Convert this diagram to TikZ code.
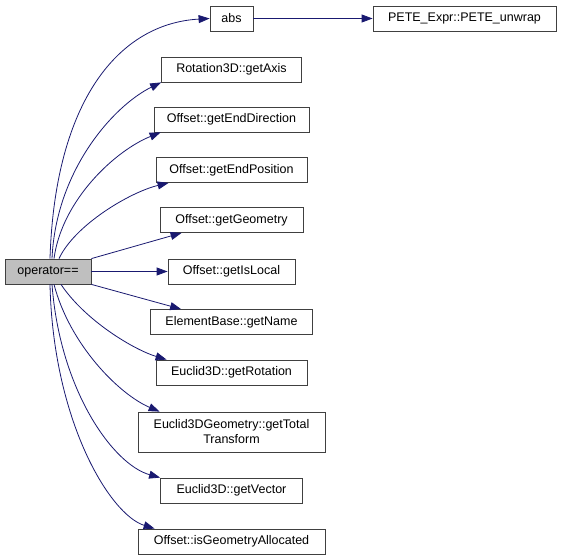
\documentclass[tikz,border=0pt]{standalone}
\usepackage{fontspec}
\setmainfont{Liberation Sans}
\usetikzlibrary{arrows.meta}
\definecolor{callblue}{HTML}{191970}
\definecolor{rootgray}{HTML}{BFBFBF}
\begin{document}
\begin{tikzpicture}[x=1pt,y=-1pt,
  fn/.style={draw=black!75,line width=0.8pt,minimum height=25pt,inner sep=1pt,
    align=center,font=\fontsize{12.5}{15}\selectfont},
  call/.style={draw=callblue,line width=0.8pt,
    -{Triangle[length=11pt,width=8pt,fill=callblue]}}]
\useasboundingbox (0,0) rectangle (563,560);
% Draw function boxes
\node[fn,fill=rootgray,minimum width=86pt] (op) at (48,271.5) {operator==};
\node[fn,minimum width=43pt] (abs) at (231.5,18.5) {abs};
\node[fn,minimum width=183pt] (unwrap) at (464.5,18.5) {PETE\_Expr::PETE\_unwrap};
\node[fn,minimum width=140pt] (axis) at (231.5,69.5) {Rotation3D::getAxis};
\node[fn,minimum width=155pt] (enddir) at (231.5,119.5) {Offset::getEndDirection};
\node[fn,minimum width=151pt] (endpos) at (231.5,170) {Offset::getEndPosition};
\node[fn,minimum width=143pt] (geom) at (231.5,220) {Offset::getGeometry};
\node[fn,minimum width=127pt] (islocal) at (231.5,271.5) {Offset::getIsLocal};
\node[fn,minimum width=162pt] (name) at (231.5,322) {ElementBase::getName};
\node[fn,minimum width=151pt] (rot) at (231.5,372.5) {Euclid3D::getRotation};
\node[fn,minimum width=187pt,minimum height=40pt] (total) at (231.5,432) {Euclid3DGeometry::getTotal\\Transform};
\node[fn,minimum width=142pt] (vec) at (231.5,490.5) {Euclid3D::getVector};
\node[fn,minimum width=187pt] (alloc) at (231.5,541.5) {Offset::isGeometryAllocated};
% Draw calls going up
\draw[call] ([xshift=2pt]op.north) .. controls +(5,-159) and +(-90,5) .. (abs.west);
\draw[call] (abs.east) -- (unwrap.west);
\draw[call] ([xshift=4pt]op.north) .. controls +(4,-89) and +(-47,23) .. (axis.south west);
\draw[call] ([xshift=6pt]op.north) .. controls +(8,-59) and +(-45,18) .. ([xshift=7pt]enddir.south west);
\draw[call] ([xshift=11pt]op.north) .. controls +(16,-34) and +(-38,9) .. ([xshift=13pt]endpos.south west);
\draw[call] (op.north east) -- ([xshift=22pt]geom.south west);
% Straight call
\draw[call] (op.east) -- (islocal.west);
% Draw calls going down
\draw[call] (op.south east) -- ([xshift=31pt]name.north west);
\draw[call] ([xshift=13pt]op.south) .. controls +(24,36) and +(-33,-10) .. ([xshift=11pt]rot.north west);
\draw[call] ([xshift=6pt]op.south) .. controls +(16,61) and +(-40,-17) .. ([xshift=22pt]total.north west);
\draw[call] ([xshift=4pt]op.south) .. controls +(8,106) and +(-47,-13) .. (vec.north west);
\draw[call] ([xshift=2pt]op.south) .. controls +(3,136) and +(-45,-14) .. ([xshift=17pt]alloc.north west);
\end{tikzpicture}
\end{document}
